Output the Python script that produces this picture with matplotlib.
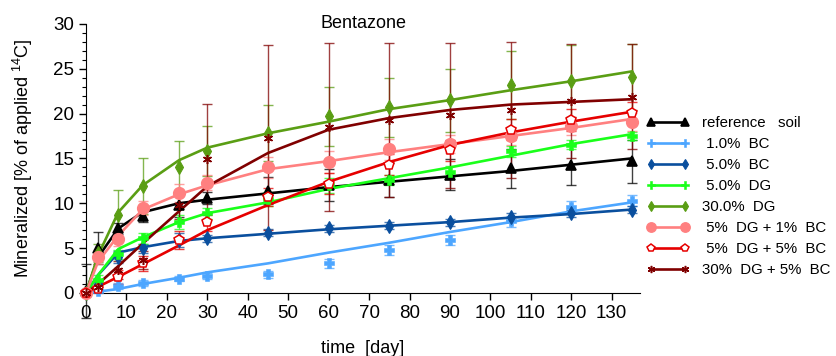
import numpy as np
import matplotlib
matplotlib.use("Agg")
import matplotlib.pyplot as plt
from matplotlib.lines import Line2D

plt.rcParams['font.family'] = ['Liberation Sans', 'DejaVu Sans']
plt.rcParams['mathtext.fontset'] = 'custom'
plt.rcParams['mathtext.rm'] = 'Liberation Sans'

# sampling days
days = [0, 3, 8, 14, 23, 30, 45, 60, 75, 90, 105, 120, 135]

# reference soil
ref_obs = [0.2, 5.0, 7.2, 8.6, 9.8, 10.6, 11.4, 12.0, 12.6, 13.2, 13.9, 14.3, 14.7]
ref_err = [3.0, 1.8, 0.6, 0.7, 1.3, 0.7, 1.5, 1.8, 1.9, 1.7, 2.2, 2.3, 2.4]
ref_fit = [0, 4.0, 7.2, 9.0, 10.0, 10.4, 11.1, 11.8, 12.4, 13.0, 13.6, 14.3, 15.0]

# 1.0% BC
bc1_obs = [0, 0.2, 0.8, 1.1, 1.6, 1.9, 2.1, 3.3, 4.8, 5.9, 8.0, 9.6, 10.3]
bc1_err = [0.2, 0.2, 0.3, 0.3, 0.3, 0.3, 0.4, 0.5, 0.6, 0.6, 0.6, 0.6, 0.6]
bc1_fit = [0, 0.15, 0.45, 1.0, 1.7, 2.3, 3.3, 4.5, 5.6, 6.8, 7.9, 9.1, 10.1]

# 5.0% BC
bc5_obs = [0, 1.0, 4.0, 5.0, 5.9, 6.1, 6.7, 7.2, 7.5, 7.9, 8.5, 8.9, 9.3]
bc5_err = [0.2, 0.3, 0.7, 0.5, 0.8, 0.4, 0.4, 0.4, 0.4, 0.4, 0.4, 0.4, 0.4]
bc5_fit = [0, 2.0, 4.5, 5.1, 5.8, 6.1, 6.6, 7.1, 7.5, 7.9, 8.4, 8.8, 9.3]

# 5.0% DG
dg5_obs = [0, 1.5, 4.3, 6.1, 7.9, 8.9, 10.5, 12.0, 12.6, 13.5, 15.8, 16.5, 17.5]
dg5_err = [0.2, 0.5, 0.5, 0.6, 0.8, 0.6, 0.8, 0.8, 0.6, 0.6, 0.6, 0.5, 0.5]
dg5_fit = [0, 2.0, 4.9, 6.2, 7.9, 8.9, 10.1, 11.6, 12.8, 14.0, 15.3, 16.6, 17.7]

# 30.0% DG
dg30_obs = [0, 4.5, 8.7, 11.9, 14.0, 15.8, 17.8, 19.7, 20.7, 21.5, 23.2, 23.6, 24.1]
dg30_err = [0.3, 1.0, 2.8, 3.1, 2.9, 2.8, 3.1, 3.3, 3.3, 3.5, 3.8, 4.0, 3.7]
dg30_fit = [0, 4.2, 9.0, 12.0, 14.8, 16.2, 17.8, 19.1, 20.5, 21.5, 22.6, 23.6, 24.7]

# 5% DG + 1% BC
dg5bc1_obs = [0, 4.0, 6.0, 9.5, 11.1, 12.3, 14.0, 14.6, 16.0, 16.6, 17.5, 18.6, 19.1]
dg5bc1_err = [0.3, 0.8, 0.8, 0.8, 1.0, 0.8, 1.2, 1.2, 1.2, 1.0, 1.0, 1.0, 1.0]
dg5bc1_fit = [0, 3.5, 6.4, 9.3, 11.0, 12.0, 13.8, 14.7, 15.7, 16.6, 17.5, 18.4, 19.4]

# 5% DG + 5% BC
dg5bc5_obs = [0, 0.5, 1.8, 3.3, 5.9, 7.9, 10.7, 12.2, 14.3, 15.9, 18.2, 19.3, 20.1]
dg5bc5_err = [0.2, 0.4, 0.8, 0.8, 1.0, 1.0, 1.0, 1.2, 1.2, 1.2, 1.2, 1.2, 1.2]
dg5bc5_fit = [0, 0.7, 1.8, 3.2, 5.3, 7.0, 9.8, 12.4, 14.6, 16.5, 17.9, 19.1, 20.2]

# 30% DG + 5% BC
dg30bc5_obs = [0, 0.7, 2.6, 3.7, 9.8, 14.9, 17.3, 18.5, 19.3, 19.8, 20.4, 21.4, 21.9]
dg30bc5_err = [0.2, 0.5, 1.0, 1.0, 1.6, 6.2, 10.3, 9.4, 8.6, 8.1, 7.6, 6.4, 5.9]
dg30bc5_fit = [0, 1.0, 3.0, 5.5, 9.1, 11.9, 15.6, 18.2, 19.5, 20.4, 21.0, 21.3, 21.6]

labels = ['reference   soil', ' 1.0%  BC', ' 5.0%  BC', ' 5.0%  DG', '30.0%  DG',
          ' 5%  DG + 1%  BC', ' 5%  DG + 5%  BC', '30%  DG + 5%  BC']

# obs, err, fit, colour, marker, size, face colour, edge width
series = [
    (ref_obs, ref_err, ref_fit, 'black', '^', 7, 'black', 1.2),
    (bc1_obs, bc1_err, bc1_fit, '#4da6ff', 'P', 7, '#4da6ff', 0.4),
    (bc5_obs, bc5_err, bc5_fit, '#0a4f9e', 'd', 7, '#0a4f9e', 0.8),
    (dg5_obs, dg5_err, dg5_fit, '#1aff1a', 'P', 7, '#1aff1a', 0.4),
    (dg30_obs, dg30_err, dg30_fit, '#5a9e14', 'd', 7, '#5a9e14', 0.8),
    (dg5bc1_obs, dg5bc1_err, dg5bc1_fit, '#ff8080', 'o', 8.5, '#ff8080', 1.0),
    (dg5bc5_obs, dg5bc5_err, dg5bc5_fit, '#e60000', 'p', 7, 'white', 1.1),
    (dg30bc5_obs, dg30bc5_err, dg30bc5_fit, '#800000', (6, 2, 0), 6.5, '#800000', 1.1),
]

fig = plt.figure(figsize=(8.37, 3.56), dpi=100)
ax = fig.add_axes([0.1027, 0.177, 0.662, 0.756])

handles = []
for obs, err, fit, col, mk, ms, mfc, mew in series:
    ax.errorbar(days, obs, yerr=err, fmt='none', ecolor=col, alpha=0.75,
                elinewidth=1.0, capsize=3.5, capthick=1.0, clip_on=False, zorder=2)
    ax.plot(days, fit, color=col, lw=1.9, zorder=3, clip_on=False)
    ax.plot(days, obs, ls='none', marker=mk, ms=ms, mfc=mfc, mec=col, mew=mew,
            zorder=4, clip_on=False)
    handles.append(Line2D([], [], color=col, lw=1.9, marker=mk, ms=ms * 0.8,
                          mfc=mfc, mec=col, mew=mew))

ax.set_xlim(0, 137)
ax.set_ylim(0, 30)
ax.set_xticks(np.arange(0, 131, 10))
ax.set_yticks(np.arange(0, 31, 5))
ax.set_yticks(np.arange(0, 31, 1), minor=True)
ax.tick_params(axis='both', labelsize=13.5, direction='out', length=5, width=1)
ax.tick_params(axis='y', which='minor', length=3, width=0.8)
for s in ['top', 'right']:
    ax.spines[s].set_visible(False)

ax.set_title('Bentazone', fontsize=13, y=0.985, pad=0)
ax.set_xlabel('time  [day]', fontsize=13, labelpad=13)
ax.set_ylabel('Mineralized [% of applied $^{14}$C]', fontsize=13, labelpad=13)

ax.legend(handles, labels, loc='upper left', bbox_to_anchor=(1.0, 0.68),
          borderaxespad=0, frameon=False, numpoints=2, handlelength=2.9,
          handletextpad=0.85, labelspacing=0.47, fontsize=10.8)

fig.savefig('out.png', dpi=100)
